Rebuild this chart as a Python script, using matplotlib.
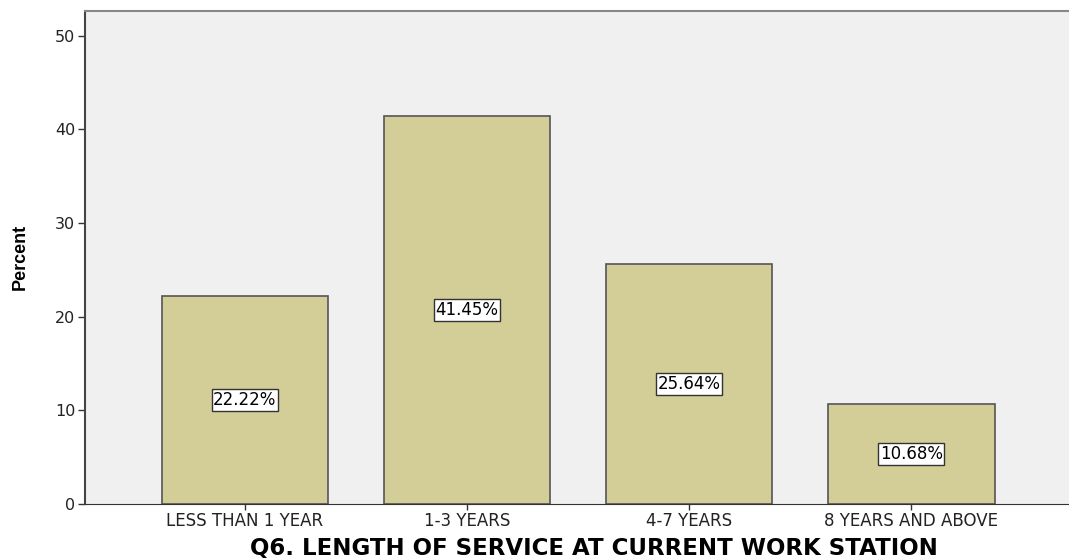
import matplotlib.pyplot as plt
import numpy as np

# Data
categories = ["LESS THAN 1 YEAR", "1-3 YEARS", "4-7 YEARS", "8 YEARS AND ABOVE"]
percents = [22.22, 41.45, 25.64, 10.68]
yticks = [0, 10, 20, 30, 40, 50]

plt.rcParams['font.family'] = ['DejaVu Sans']

fig = plt.figure(figsize=(10.69, 5.6), dpi=100)
ax = fig.add_axes([0.0795, 0.1, 0.9205, 0.881])
ax.set_facecolor('#f0f0f0')

x = np.arange(len(categories))
ax.bar(x, percents, width=0.75, color='#d3ce97', edgecolor='#555555', linewidth=1.2, zorder=2)

for xi, v in zip(x, percents):
    ax.text(xi, v / 2, f"{v:.2f}%", ha='center', va='center', fontsize=12, zorder=3,
            bbox=dict(boxstyle='square,pad=0.1', fc='white', ec='#333333', lw=1))

ax.set_xlim(-0.72, 3.71)
ax.set_ylim(0, 52.67)
ax.set_xticks(x)
ax.set_xticklabels(categories, fontsize=12)
ax.set_yticks(yticks)
ax.tick_params(axis='y', labelsize=11.5, length=5, width=1, color='#333333', pad=2, labelcolor='#222222')
ax.tick_params(axis='x', length=4, width=1, color='#333333', pad=2, labelcolor='#222222')

ax.spines['right'].set_visible(False)
ax.spines['left'].set_color('#444444')
ax.spines['left'].set_linewidth(1.5)
ax.spines['bottom'].set_color('#333333')
ax.spines['top'].set_color('#888888')
ax.spines['top'].set_linewidth(1.5)

ax.set_xlabel("Q6. LENGTH OF SERVICE AT CURRENT WORK STATION", fontsize=16.5, fontweight='bold', va='center')
ax.xaxis.set_label_coords(0.517, -0.091)
ax.set_ylabel("Percent", fontsize=13, fontweight='bold',
              family=['Liberation Sans Narrow', 'Liberation Sans'])
ax.yaxis.set_label_coords(-0.057, 0.5)

fig.savefig("out.png", dpi=100)
